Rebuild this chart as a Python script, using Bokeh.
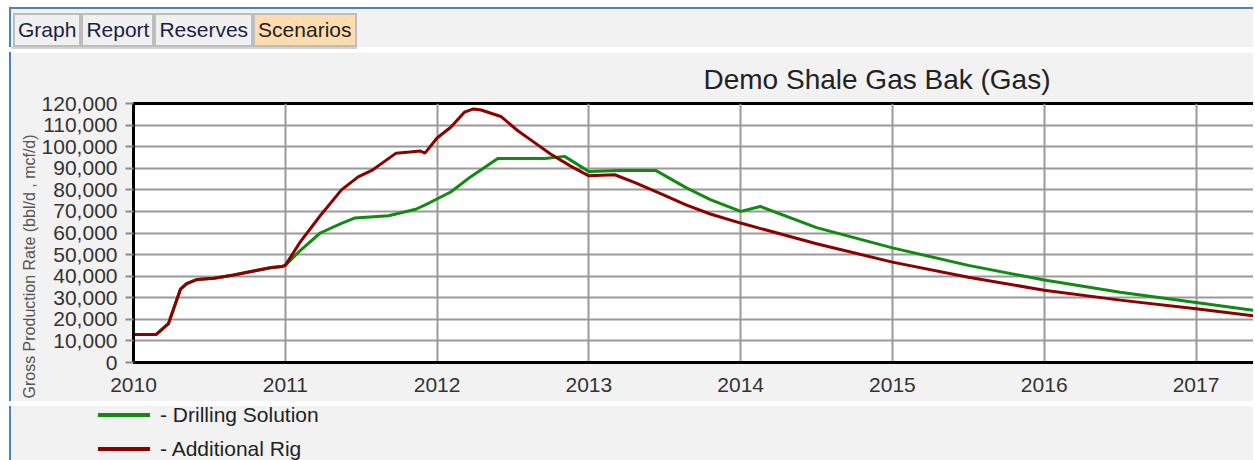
from bokeh.plotting import figure
from bokeh.models import FixedTicker, NumeralTickFormatter, Range1d, Title, Div
from bokeh.embed import file_html
from bokeh.resources import INLINE

# ---------------- data ----------------
rig_year = [2010.00, 2010.15, 2010.23, 2010.31, 2010.35, 2010.42, 2010.53, 2010.66, 2010.80,
            2010.91, 2010.98, 2011.00, 2011.10, 2011.23, 2011.37, 2011.48, 2011.57, 2011.64,
            2011.73, 2011.82, 2011.89, 2011.92, 2012.00, 2012.09, 2012.18, 2012.24, 2012.29,
            2012.42, 2012.53, 2012.64, 2012.75, 2012.88, 2013.00, 2013.17, 2013.30, 2013.48,
            2013.64, 2013.80, 2014.00, 2014.50, 2015.00, 2015.50, 2016.00, 2016.50, 2017.00,
            2017.40]
rig_rate = [13000, 13000, 18000, 34000, 36500, 38500, 39000, 40500, 42500,
            44000, 44500, 45000, 56000, 68000, 80000, 86000, 89000, 92500,
            97000, 97500, 98000, 97000, 104000, 109000, 116000, 117500, 117000,
            114000, 107500, 102000, 96500, 91000, 86500, 87000, 83500, 78000,
            73000, 68800, 64600, 55000, 46500, 39500, 33500, 28900, 24900,
            21400]

drill_year = [2010.00, 2010.15, 2010.23, 2010.31, 2010.35, 2010.42, 2010.53, 2010.66, 2010.80,
              2010.91, 2010.98, 2011.00, 2011.10, 2011.23, 2011.37, 2011.46, 2011.68, 2011.86,
              2011.95, 2012.09, 2012.22, 2012.40, 2012.71, 2012.84, 2013.00, 2013.20, 2013.44,
              2013.64, 2013.80, 2014.00, 2014.13, 2014.50, 2015.00, 2015.50, 2016.00, 2016.50,
              2017.00, 2017.40]
drill_rate = [13000, 13000, 18000, 34000, 36500, 38500, 39000, 40500, 42500,
              44000, 44500, 45000, 52000, 60000, 64500, 67000, 68000, 71000,
              74000, 79000, 86000, 94500, 94500, 95500, 88500, 89000, 89000,
              81000, 75500, 70000, 72300, 62500, 53100, 45000, 38200, 32500,
              27800, 24000]

year_ticks = [2010, 2011, 2012, 2013, 2014, 2015, 2016, 2017]
year_labels = ["2010", "2011", "2012", "2013", "2014", "2015", "2016", "2017"]
rate_ticks = [0, 10000, 20000, 30000, 40000, 50000, 60000, 70000, 80000, 90000,
              100000, 110000, 120000]

series_names = ["- Drilling Solution", "- Additional Rig"]
series_colors = ["#108a10", "#8c0000"]
tab_names = ["Graph", "Report", "Reserves", "Scenarios"]
title_text = "Demo Shale Gas Bak (Gas)"
y_title = "Gross Production Rate (bbl/d , mcf/d)"

FONT = "Liberation Sans"
BG = "#f2f2f2"
BLUE = "2px solid #4f81bd"

# ---------------- tab strip (root 1) ----------------
tab_spans = []
for name in tab_names:
    fill = "#fddcb0" if name == "Scenarios" else "#f0f0f0"
    col = "#222222" if name == "Scenarios" else "#1c1f45"
    tab_spans.append(
        f'<span style="display:inline-block;box-sizing:border-box;height:34px;'
        f'line-height:30px;padding:0 3px;border:2px solid #bdbdbd;background:{fill};'
        f'color:{col};font-family:\'{FONT}\';font-size:21px;white-space:nowrap;">{name}</span>')
tabs_html = ('<div style="display:flex;align-items:flex-end;box-sizing:border-box;height:40px;'
             'padding:4px 0 0 2px;border-bottom:2px solid #d2d2d2;">'
             + "".join(tab_spans) + '</div>')
tabs = Div(text=tabs_html, width=1244, height=40,
           styles={"display": "block", "background-color": BG, "margin-left": "9px",
                   "margin-top": "7px", "border-top": BLUE, "border-left": BLUE})

# ---------------- chart (root 2) ----------------
p = figure(width=1244, height=349, output_backend="svg", toolbar_location=None,
           x_range=Range1d(2010, 2017.392), y_range=Range1d(0, 120000),
           min_border_left=122, min_border_top=50, min_border_bottom=39, min_border_right=0,
           background_fill_color="white", border_fill_color=BG,
           outline_line_color="black", outline_line_width=3,
           styles={"vertical-align": "top", "margin-left": "9px", "border-left": BLUE})

p.title.text = title_text
p.title.align = "left"
p.title.offset = 570
p.title.standoff = 18
p.title.text_font = FONT
p.title.text_font_size = "28px"
p.title.text_font_style = "normal"
p.title.text_color = "#222222"

xa = p.xaxis[0]
xa.ticker = FixedTicker(ticks=year_ticks)
xa.major_label_overrides = {t: l for t, l in zip(year_ticks, year_labels)}
xa.major_tick_in = 0
xa.major_tick_out = 0
xa.minor_tick_line_color = None
xa.axis_line_color = "black"
xa.axis_line_width = 3
xa.major_label_text_font = FONT
xa.major_label_text_font_size = "21px"
xa.major_label_text_color = "#333333"
xa.major_label_standoff = 15

ya = p.yaxis[0]
ya.ticker = FixedTicker(ticks=rate_ticks)
ya.formatter = NumeralTickFormatter(format="0,0")
ya.major_tick_in = 0
ya.major_tick_out = 8
ya.major_tick_line_color = "#8c8c8c"
ya.major_tick_line_width = 2
ya.minor_tick_line_color = None
ya.axis_line_color = "black"
ya.axis_line_width = 3
ya.major_label_text_font = FONT
ya.major_label_text_font_size = "21px"
ya.major_label_text_color = "#333333"
ya.major_label_standoff = 8

p.add_layout(Title(text=y_title, align="left", offset=-36, standoff=2,
                   text_font=FONT, text_font_size="16px", text_font_style="normal",
                   text_color="#555555"), "left")

p.xgrid.ticker = FixedTicker(ticks=year_ticks)
p.xgrid.grid_line_color = "#9a9a9a"
p.xgrid.grid_line_width = 2
p.ygrid.grid_line_color = "#9a9a9a"
p.ygrid.grid_line_width = 2

p.line(drill_year, drill_rate, line_color=series_colors[0], line_width=3)
p.line(rig_year, rig_rate, line_color=series_colors[1], line_width=3)

# ---------------- legend (root 3) ----------------
rows = []
for i, (name, colr) in enumerate(zip(series_names, series_colors)):
    mt = "0" if i == 0 else "16px"
    rows.append(
        f'<div style="display:flex;align-items:center;height:18px;margin-top:{mt};'
        f'padding-left:87px;">'
        f'<span style="display:inline-block;width:52px;height:4px;background:{colr};'
        f'margin-right:10px;"></span>'
        f'<span style="font-family:\'{FONT}\';font-size:21px;line-height:18px;color:#222222;'
        f'white-space:nowrap;">{name}</span></div>')
legend_div = Div(text="".join(rows), width=1244, height=62,
                 styles={"display": "block", "background-color": BG, "margin-left": "9px",
                         "border-left": BLUE, "overflow": "visible"})

open("out.html", "w").write(file_html([tabs, p, legend_div], INLINE))
